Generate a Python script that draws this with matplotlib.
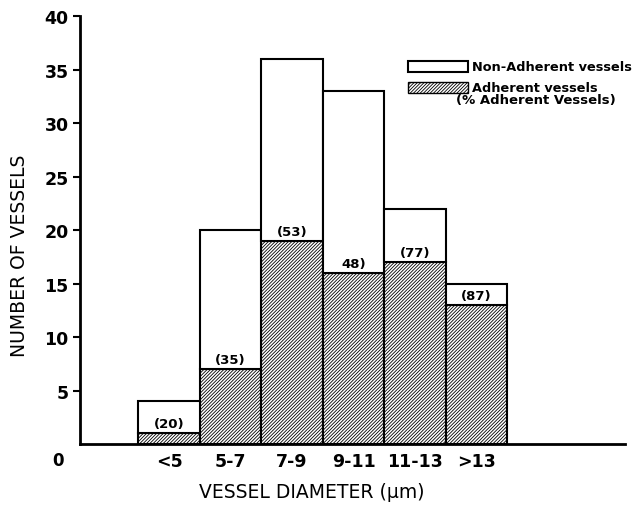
import numpy as np
import matplotlib.pyplot as plt
from matplotlib.patches import Rectangle

plt.rcParams['font.family'] = ['DejaVu Sans']
plt.rcParams['hatch.linewidth'] = 0.6

# data
categories = ['<5', '5-7', '7-9', '9-11', '11-13', '>13']
total = [4, 20, 36, 33, 22, 15]
adherent = [1, 7, 19, 16, 17, 13]
pct_labels = ['(20)', '(35)', '(53)', '48)', '(77)', '(87)']

non_adherent = [t - a for t, a in zip(total, adherent)]
x = np.arange(len(categories))
hatch = '/' * 10

fig = plt.figure(figsize=(6.39, 5.06), dpi=100)
ax = fig.add_axes([0.125, 0.1206, 0.853, 0.845])

ax.bar(x, adherent, width=1.0, color='white', edgecolor='black',
       linewidth=1.5, hatch=hatch)
ax.bar(x, non_adherent, bottom=adherent, width=1.0, color='white',
       edgecolor='black', linewidth=1.5)

for xi, a, lab in zip(x, adherent, pct_labels):
    ax.text(xi, a + 0.3, lab, ha='center', va='bottom',
            fontsize=9.5, fontweight='bold')

ax.set_xlim(-1.45, 7.41)
ax.set_ylim(0, 40)
ax.set_xticks(x)
ax.set_xticklabels(categories, fontsize=12.5, fontweight='bold')
ax.tick_params(axis='x', length=0, pad=6)
ax.set_yticks(range(5, 45, 5))
ax.set_yticklabels([str(v) for v in range(5, 45, 5)], fontsize=12.5,
                   fontweight='bold')
ax.tick_params(axis='y', length=5, width=1.5, direction='out', pad=3)
ax.text(-0.040, -0.037, '0', transform=ax.transAxes, ha='center',
        va='center', fontsize=12, fontweight='bold')

for side in ['top', 'right']:
    ax.spines[side].set_visible(False)
ax.spines['left'].set_linewidth(2)
ax.spines['bottom'].set_linewidth(2)

fig.text(20 / 639, 1 - 256 / 506, 'NUMBER OF VESSELS', rotation=90,
         ha='center', va='center', fontsize=13.5)
fig.text(312 / 639, 1 - 493 / 506, 'VESSEL DIAMETER (\u03bcm)',
         ha='center', va='center', fontsize=13.5)

# legend drawn by hand
ax.add_patch(Rectangle((0.602, 0.869), 0.110, 0.0257, transform=ax.transAxes,
                       facecolor='white', edgecolor='black', linewidth=1.5,
                       clip_on=False))
ax.add_patch(Rectangle((0.602, 0.822), 0.110, 0.0257, transform=ax.transAxes,
                       facecolor='white', edgecolor='black', linewidth=1.0,
                       hatch=hatch, clip_on=False))
ax.text(0.719, 0.882, 'Non-Adherent vessels', transform=ax.transAxes,
        ha='left', va='center', fontsize=9.3, fontweight='bold')
ax.text(0.719, 0.834, 'Adherent vessels', transform=ax.transAxes,
        ha='left', va='center', fontsize=9.3, fontweight='bold')
ax.text(0.837, 0.806, '(% Adherent Vessels)', transform=ax.transAxes,
        ha='center', va='center', fontsize=9.5, fontweight='bold')

fig.savefig('out.png', dpi=100)
